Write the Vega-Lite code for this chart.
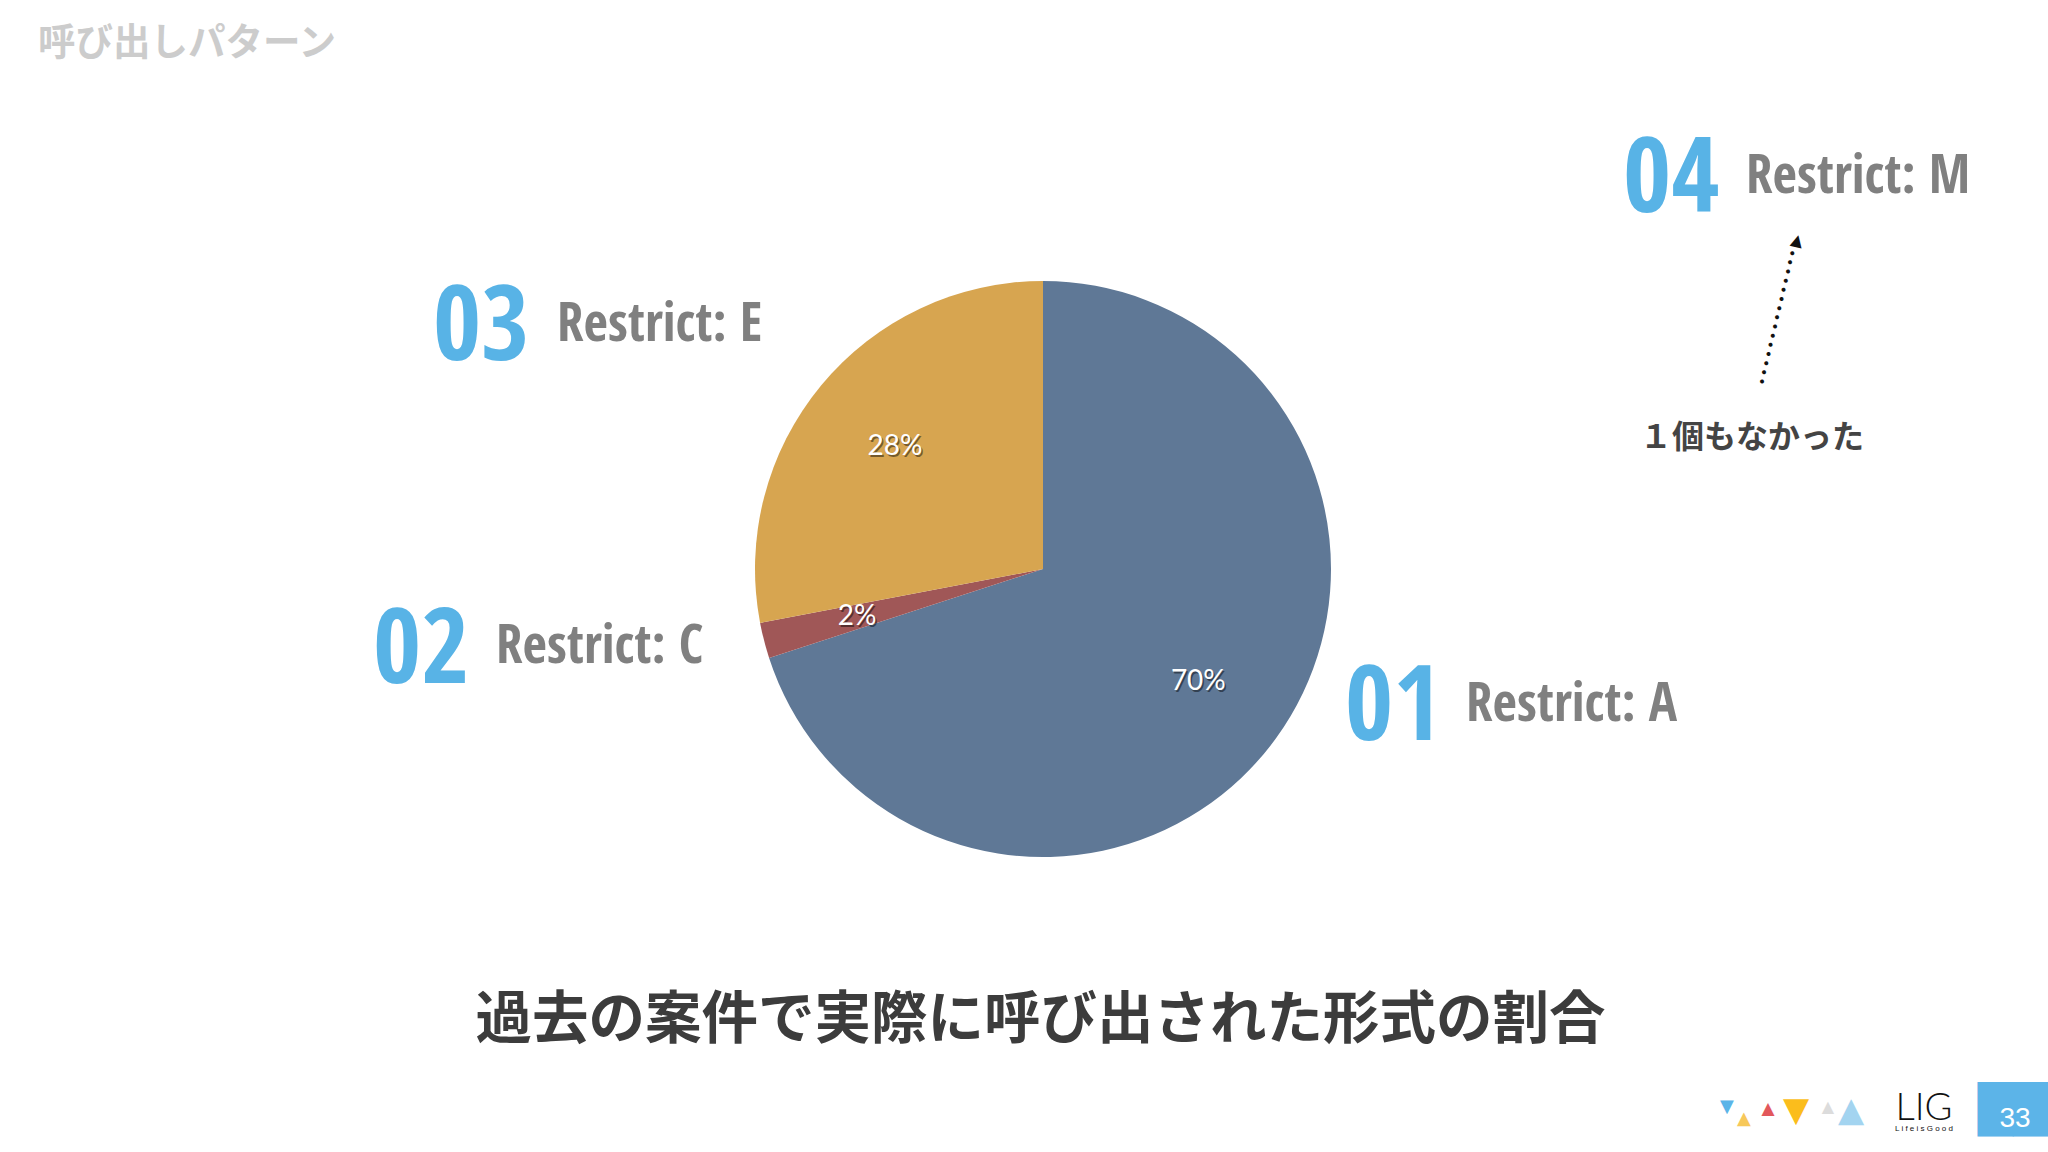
{
  "$schema": "https://vega.github.io/schema/vega-lite/v6.json",
  "width": 2010,
  "height": 1136,
  "autosize": {"type": "none"},
  "padding": {"left": 38, "top": 1, "right": 0, "bottom": 15},
  "background": "#ffffff",
  "config": {"view": {"stroke": null}},
  "datasets": {
    "patterns": [
      {"id": "01", "pattern": "Restrict: A", "share": 0.70, "order": 1, "note": ""},
      {"id": "02", "pattern": "Restrict: C", "share": 0.02, "order": 2, "note": ""},
      {"id": "03", "pattern": "Restrict: E", "share": 0.28, "order": 3, "note": ""},
      {"id": "04", "pattern": "Restrict: M", "share": 0.00, "order": 4, "note": "１個もなかった"}
    ]
  },
  "layer": [
    {
      "data": {"name": "patterns"},
      "mark": {"type": "arc", "outerRadius": 288},
      "encoding": {
        "theta": {"field": "share", "type": "quantitative", "stack": true},
        "order": {"field": "order", "type": "quantitative"},
        "color": {
          "field": "pattern", "type": "nominal", "legend": null,
          "scale": {"domain": ["Restrict: A", "Restrict: C", "Restrict: E", "Restrict: M"], "range": ["#5f7896", "#a05757", "#d7a550", "#999999"]}
        }
      }
    },
    {
      "data": {"name": "patterns"},
      "transform": [{"filter": "datum.share > 0"}],
      "mark": {"type": "text", "radius": 192, "dx": 1.5, "dy": 2, "font": "Lato", "fontSize": 28, "color": "#000000", "opacity": 0.45, "align": "center", "baseline": "middle"},
      "encoding": {
        "theta": {"field": "share", "type": "quantitative", "stack": true},
        "order": {"field": "order", "type": "quantitative"},
        "text": {"field": "share", "type": "quantitative", "format": ".0%"}
      }
    },
    {
      "data": {"name": "patterns"},
      "transform": [{"filter": "datum.share > 0"}],
      "mark": {"type": "text", "radius": 192, "font": "Lato", "fontSize": 28, "color": "#ffffff", "align": "center", "baseline": "middle"},
      "encoding": {
        "theta": {"field": "share", "type": "quantitative", "stack": true},
        "order": {"field": "order", "type": "quantitative"},
        "text": {"field": "share", "type": "quantitative", "format": ".0%"}
      }
    },
    {
      "data": {"name": "patterns"},
      "transform": [{"filter": "datum.id == '01'"}],
      "mark": {"type": "text", "dx": 302, "dy": 171, "align": "left", "baseline": "alphabetic", "font": "Open Sans Condensed, Roboto Condensed, Roboto", "fontWeight": "bold", "fontSize": 104, "color": "#58b3e6"},
      "encoding": {"text": {"field": "id"}}
    },
    {
      "data": {"name": "patterns"},
      "transform": [{"filter": "datum.id == '01'"}],
      "mark": {"type": "text", "dx": 423, "dy": 152, "align": "left", "baseline": "alphabetic", "font": "Open Sans Condensed, Roboto Condensed, Roboto", "fontWeight": "bold", "fontSize": 53, "color": "#808080"},
      "encoding": {"text": {"field": "pattern"}}
    },
    {
      "data": {"name": "patterns"},
      "transform": [{"filter": "datum.id == '02'"}],
      "mark": {"type": "text", "dx": -670, "dy": 114, "align": "left", "baseline": "alphabetic", "font": "Open Sans Condensed, Roboto Condensed, Roboto", "fontWeight": "bold", "fontSize": 104, "color": "#58b3e6"},
      "encoding": {"text": {"field": "id"}}
    },
    {
      "data": {"name": "patterns"},
      "transform": [{"filter": "datum.id == '02'"}],
      "mark": {"type": "text", "dx": -547, "dy": 94, "align": "left", "baseline": "alphabetic", "font": "Open Sans Condensed, Roboto Condensed, Roboto", "fontWeight": "bold", "fontSize": 53, "color": "#808080"},
      "encoding": {"text": {"field": "pattern"}}
    },
    {
      "data": {"name": "patterns"},
      "transform": [{"filter": "datum.id == '03'"}],
      "mark": {"type": "text", "dx": -610, "dy": -209, "align": "left", "baseline": "alphabetic", "font": "Open Sans Condensed, Roboto Condensed, Roboto", "fontWeight": "bold", "fontSize": 104, "color": "#58b3e6"},
      "encoding": {"text": {"field": "id"}}
    },
    {
      "data": {"name": "patterns"},
      "transform": [{"filter": "datum.id == '03'"}],
      "mark": {"type": "text", "dx": -486, "dy": -228, "align": "left", "baseline": "alphabetic", "font": "Open Sans Condensed, Roboto Condensed, Roboto", "fontWeight": "bold", "fontSize": 53, "color": "#808080"},
      "encoding": {"text": {"field": "pattern"}}
    },
    {
      "data": {"name": "patterns"},
      "transform": [{"filter": "datum.id == '04'"}],
      "mark": {"type": "text", "dx": 580, "dy": -357, "align": "left", "baseline": "alphabetic", "font": "Open Sans Condensed, Roboto Condensed, Roboto", "fontWeight": "bold", "fontSize": 104, "color": "#58b3e6"},
      "encoding": {"text": {"field": "id"}}
    },
    {
      "data": {"name": "patterns"},
      "transform": [{"filter": "datum.id == '04'"}],
      "mark": {"type": "text", "dx": 703, "dy": -376, "align": "left", "baseline": "alphabetic", "font": "Open Sans Condensed, Roboto Condensed, Roboto", "fontWeight": "bold", "fontSize": 53, "color": "#808080"},
      "encoding": {"text": {"field": "pattern"}}
    },
    {
      "data": {"name": "patterns"},
      "transform": [{"filter": "datum.id == '04'"}],
      "mark": {"type": "text", "dx": 597, "dy": -131, "align": "left", "baseline": "middle", "font": "Noto Sans CJK JP", "fontWeight": "bold", "fontSize": 32, "color": "#444444"},
      "encoding": {"text": {"field": "note"}}
    },
    {
      "data": {"values": [{"t": "• • • • • • • • • • • • • • •"}]},
      "mark": {"type": "text", "radius": 776, "theta": 1.2406, "angle": -76.7, "align": "center", "baseline": "middle", "font": "Liberation Sans", "fontSize": 15, "color": "#111111"},
      "encoding": {"text": {"field": "t"}}
    },
    {
      "data": {"values": [{"t": "▲"}]},
      "mark": {"type": "text", "radius": 822.7, "theta": 1.1597, "angle": 13.3, "align": "center", "baseline": "middle", "font": "DejaVu Sans", "fontSize": 16, "color": "#111111"},
      "encoding": {"text": {"field": "t"}}
    },
    {
      "data": {"values": [{"t": "過去の案件で実際に呼び出された形式の割合"}]},
      "mark": {"type": "text", "dx": -2.5, "dy": 452, "align": "center", "baseline": "middle", "font": "Noto Sans CJK JP", "fontWeight": "bold", "fontSize": 56.5, "color": "#3c3c3c"},
      "encoding": {"text": {"field": "t"}}
    },
    {
      "data": {"values": [{"t": "呼び出しパターン"}]},
      "mark": {"type": "text", "dx": -1005, "dy": -525.5, "align": "left", "baseline": "middle", "font": "Noto Sans CJK JP", "fontWeight": "bold", "fontSize": 37.5, "color": "#cccccc"},
      "encoding": {"text": {"field": "t"}}
    },
    {
      "data": {"values": [{"t": "▼"}]},
      "mark": {"type": "text", "dx": 684, "dy": 538, "align": "center", "baseline": "middle", "font": "DejaVu Sans", "fontSize": 18, "color": "#5cb4e8"},
      "encoding": {"text": {"field": "t"}}
    },
    {
      "data": {"values": [{"t": "▲"}]},
      "mark": {"type": "text", "dx": 701, "dy": 550, "align": "center", "baseline": "middle", "font": "DejaVu Sans", "fontSize": 18, "color": "#f7c85a"},
      "encoding": {"text": {"field": "t"}}
    },
    {
      "data": {"values": [{"t": "▲"}]},
      "mark": {"type": "text", "dx": 725, "dy": 540, "align": "center", "baseline": "middle", "font": "DejaVu Sans", "fontSize": 17, "color": "#e2585b"},
      "encoding": {"text": {"field": "t"}}
    },
    {
      "data": {"values": [{"t": "▼"}]},
      "mark": {"type": "text", "dx": 753, "dy": 542, "align": "center", "baseline": "middle", "font": "DejaVu Sans", "fontSize": 34, "color": "#fbbd1c"},
      "encoding": {"text": {"field": "t"}}
    },
    {
      "data": {"values": [{"t": "▲"}]},
      "mark": {"type": "text", "dx": 785, "dy": 538, "align": "center", "baseline": "middle", "font": "DejaVu Sans", "fontSize": 16, "color": "#dcdcdc"},
      "encoding": {"text": {"field": "t"}}
    },
    {
      "data": {"values": [{"t": "▲"}]},
      "mark": {"type": "text", "dx": 808, "dy": 542, "align": "center", "baseline": "middle", "font": "DejaVu Sans", "fontSize": 34, "color": "#a3d4f0"},
      "encoding": {"text": {"field": "t"}}
    },
    {
      "data": {"values": [{"t": "LIG"}]},
      "mark": {"type": "text", "dx": 881, "dy": 551, "align": "center", "baseline": "alphabetic", "font": "Lato", "fontWeight": 300, "fontSize": 38, "color": "#111111"},
      "encoding": {"text": {"field": "t"}}
    },
    {
      "data": {"values": [{"t": "L i f e  i s  G o o d"}]},
      "mark": {"type": "text", "dx": 881, "dy": 562, "align": "center", "baseline": "alphabetic", "font": "Liberation Sans", "fontSize": 8, "color": "#111111"},
      "encoding": {"text": {"field": "t"}}
    },
    {
      "data": {"values": [{"t": "██"}]},
      "mark": {"type": "text", "dx": 970, "dy": 556, "align": "center", "baseline": "alphabetic", "font": "DejaVu Sans", "fontSize": 46, "color": "#5cb4e8"},
      "encoding": {"text": {"field": "t"}}
    },
    {
      "data": {"values": [{"t": "33"}]},
      "mark": {"type": "text", "dx": 972, "dy": 558, "align": "center", "baseline": "alphabetic", "font": "Liberation Sans", "fontSize": 28, "color": "#ffffff"},
      "encoding": {"text": {"field": "t"}}
    }
  ]
}
